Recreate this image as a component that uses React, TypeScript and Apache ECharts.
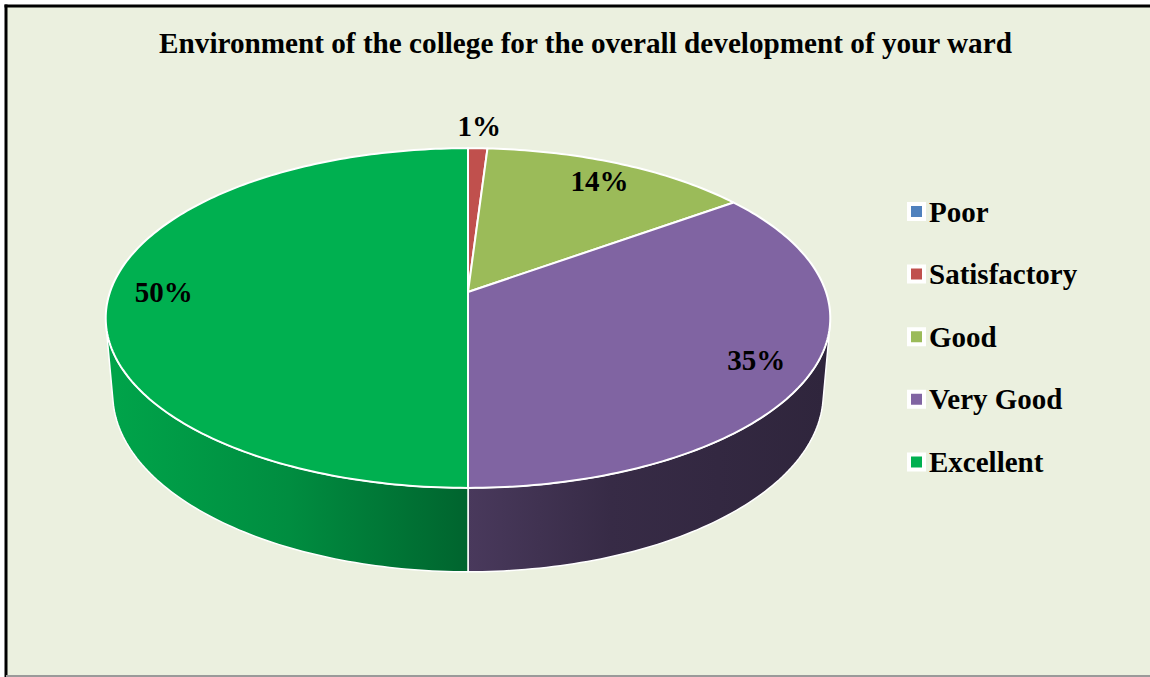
import React, { useEffect, useRef } from 'react';
import * as echarts from 'echarts';

const categories = ['Poor', 'Satisfactory', 'Good', 'Very Good', 'Excellent'];
const values = [0, 1, 14, 35, 50];
const colors = ['#4F81BD', '#C0504D', '#9BBB59', '#8064A2', '#00B050'];
const titleText = 'Environment of the college for the overall development of your ward';

const FONT = "'Liberation Serif', 'Times New Roman', serif";

// 3D pie geometry (layout only)
const CX = 468;
const CY = 292;
const RPX = 358;
const TILT = (27.6 * Math.PI) / 180;
const PERSP = 0.173;
const DEPTH = 0.241;
const SIN_T = Math.sin(TILT);
const COS_T = Math.cos(TILT);
const TH_S = (Math.acos(-PERSP / COS_T) * 180) / Math.PI;

function project(deg: number, f: number, w: number): number[] {
  const t = (deg * Math.PI) / 180;
  const u = f * Math.sin(t);
  const v = f * Math.cos(t);
  const y = v * SIN_T + w * COS_T;
  const z = v * COS_T - w * SIN_T;
  const s = 1 / (1 + z * PERSP);
  return [CX + RPX * u * s, CY - RPX * y * s];
}

function arc(a: number, b: number, f: number, w: number): number[][] {
  const pts: number[][] = [];
  const n = Math.max(2, Math.ceil(Math.abs(b - a)));
  for (let i = 0; i <= n; i++) pts.push(project(a + ((b - a) * i) / n, f, w));
  return pts;
}

function shade(hex: string, f: number): string {
  const h = hex.replace('#', '');
  const r = parseInt(h.slice(0, 2), 16);
  const g = parseInt(h.slice(2, 4), 16);
  const b = parseInt(h.slice(4, 6), 16);
  return `rgb(${Math.round(r * f)},${Math.round(g * f)},${Math.round(b * f)})`;
}

const SHADE_STOPS = [
  [0, 0.93],
  [0.25, 0.8],
  [0.5, 0.57],
  [0.7, 0.43],
  [1, 0.37],
];

export default function App() {
  const ref = useRef<HTMLDivElement>(null);
  useEffect(() => {
    if (!ref.current) return;
    const chart = echarts.init(ref.current, null, { renderer: 'svg' });
    const total = values.reduce((s, v) => s + v, 0);

    const series = categories.map((name, i) => ({
      type: 'custom',
      name,
      coordinateSystem: 'none',
      silent: true,
      itemStyle: { color: colors[i] },
      data: [values[i]],
      renderItem: (params: any, api: any) => {
        const val = api.value(0);
        const color = api.visual('color');
        const startVal = values.slice(0, i).reduce((s, v) => s + v, 0);
        const a = (startVal / total) * 360;
        const b = ((startVal + val) / total) * 360;
        const children: any[] = [];
        if (val > 0) {
          // side wall (front-facing part)
          const lo = Math.max(a, TH_S);
          const hi = Math.min(b, 360 - TH_S);
          if (hi > lo) {
            const pts = [...arc(lo, hi, 1, 0), ...arc(hi, lo, 1, -DEPTH)];
            children.push({
              type: 'polygon',
              z2: 1,
              shape: { points: pts },
              style: {
                fill: {
                  type: 'linear',
                  x: CX - RPX,
                  y: 0,
                  x2: CX + RPX,
                  y2: 0,
                  global: true,
                  colorStops: SHADE_STOPS.map(([o, f]) => ({ offset: o, color: shade(colors[i], f) })),
                },
                stroke: '#ffffff',
                lineWidth: 1.5,
                lineJoin: 'round',
              },
            });
          }
          // top face
          const top = [project(0, 0, 0), ...arc(a, b, 1, 0)];
          children.push({
            type: 'polygon',
            z2: 10,
            shape: { points: top },
            style: { fill: color, stroke: '#ffffff', lineWidth: 2, lineJoin: 'round' },
          });
          // data label
          const pct = Math.round((val / total) * 100) + '%';
          const mid = (a + b) / 2;
          let lx: number;
          let ly: number;
          if (val / total >= 0.05) {
            [lx, ly] = project(mid, 0.85, 0);
          } else {
            const e = project(mid, 1, 0);
            const dx = e[0] - CX;
            const dy = e[1] - CY;
            const len = Math.sqrt(dx * dx + dy * dy) || 1;
            lx = e[0] + (dx / len) * 22;
            ly = e[1] + (dy / len) * 22;
          }
          children.push({
            type: 'text',
            z2: 20,
            x: lx,
            y: ly,
            style: {
              text: pct,
              fill: '#000000',
              font: `bold 29px ${FONT}`,
              align: 'center',
              verticalAlign: 'middle',
            },
          });
        }
        return { type: 'group', children };
      },
    }));

    chart.setOption({
      animation: false,
      backgroundColor: '#ffffff',
      graphic: {
        elements: [
          {
            type: 'rect',
            z: -10,
            shape: { x: 6, y: 6, width: 1150, height: 670 },
            style: { fill: '#EBF0DF' },
          },
          { type: 'line', z: 5, shape: { x1: 4.5, y1: 6, x2: 1150, y2: 6 }, style: { stroke: '#000', lineWidth: 3 } },
          { type: 'line', z: 5, shape: { x1: 6, y1: 4.5, x2: 6, y2: 677 }, style: { stroke: '#000', lineWidth: 3 } },
          { type: 'line', z: 5, shape: { x1: 6, y1: 676, x2: 1150, y2: 676 }, style: { stroke: '#9a9a9a', lineWidth: 2 } },
          {
            type: 'text',
            z: 5,
            x: 585.5,
            y: 43,
            style: {
              text: titleText,
              fill: '#000',
              font: `bold 29.2px ${FONT}`,
              align: 'center',
              verticalAlign: 'middle',
            },
          },
        ],
      },
      legend: {
        orient: 'vertical',
        left: 902,
        top: 191.5,
        icon: 'rect',
        itemWidth: 15,
        itemHeight: 15,
        itemGap: 32.6,
        selectedMode: false,
        data: categories,
        itemStyle: { borderColor: '#ffffff', borderWidth: 4 },
        textStyle: {
          fontFamily: FONT,
          fontWeight: 'bold',
          fontSize: 29,
          lineHeight: 30,
          color: '#000',
        },
      },
      series,
    } as any);
    return () => chart.dispose();
  }, []);
  return (
    <div
      ref={ref}
      style={{ position: 'fixed', left: 0, top: 0, width: 1150, height: 677 }}
    />
  );
}
